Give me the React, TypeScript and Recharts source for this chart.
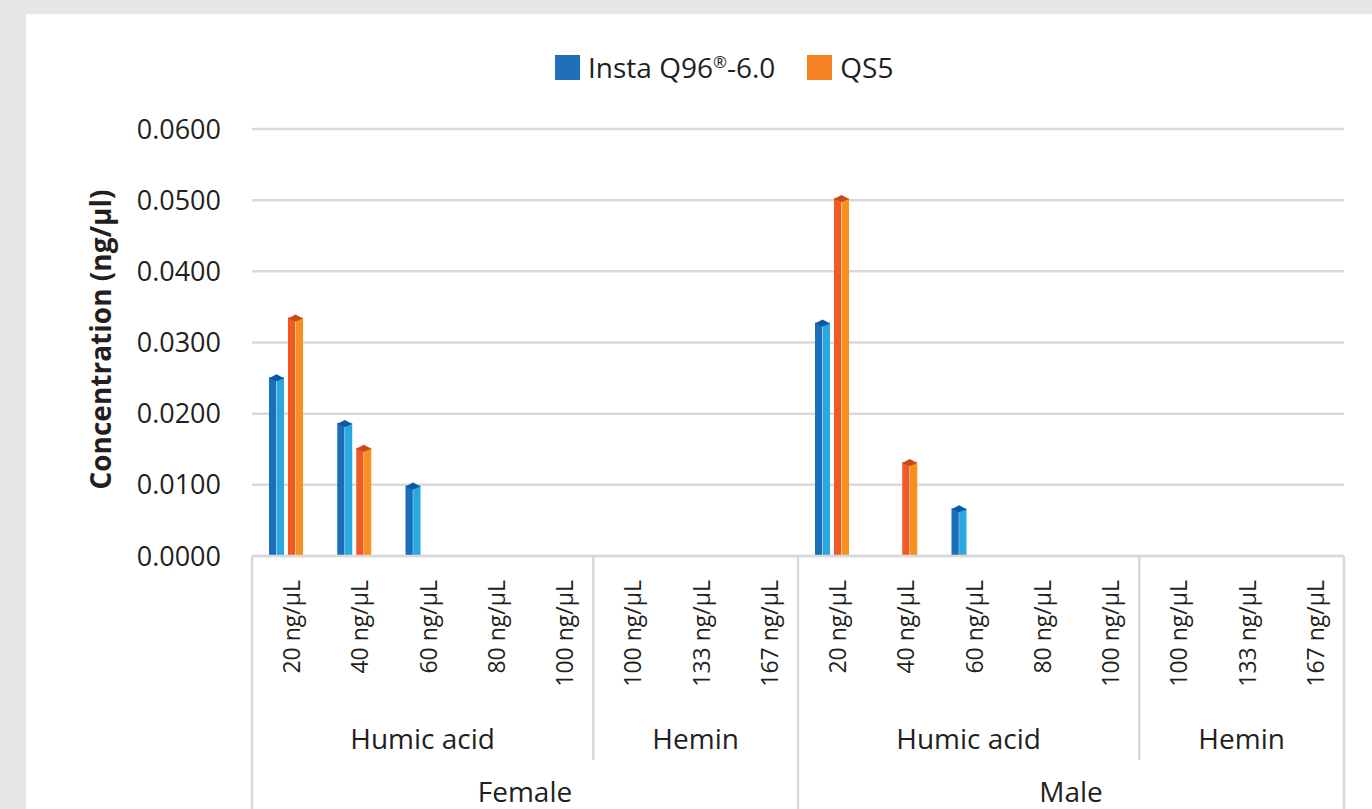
import { BarChart, Bar, XAxis, YAxis, CartesianGrid, Legend } from "recharts"

// data
const doses = [
  "20 ng/µL", "40 ng/µL", "60 ng/µL", "80 ng/µL", "100 ng/µL",
  "100 ng/µL", "133 ng/µL", "167 ng/µL",
  "20 ng/µL", "40 ng/µL", "60 ng/µL", "80 ng/µL", "100 ng/µL",
  "100 ng/µL", "133 ng/µL", "167 ng/µL",
]
const inhibitors = [
  "Humic acid", "Humic acid", "Humic acid", "Humic acid", "Humic acid",
  "Hemin", "Hemin", "Hemin",
  "Humic acid", "Humic acid", "Humic acid", "Humic acid", "Humic acid",
  "Hemin", "Hemin", "Hemin",
]
const sexes = [
  "Female", "Female", "Female", "Female", "Female", "Female", "Female", "Female",
  "Male", "Male", "Male", "Male", "Male", "Male", "Male", "Male",
]
const instaQ96 = [0.0251, 0.0187, 0.0099, 0, 0, 0, 0, 0, 0.0328, 0, 0.0067, 0, 0, 0, 0, 0]
const qs5 = [0.0335, 0.0152, 0, 0, 0, 0, 0, 0, 0.0503, 0.0132, 0, 0, 0, 0, 0, 0]
const yTicks = [0, 0.01, 0.02, 0.03, 0.04, 0.05, 0.06]

const data = doses.map((d, i) => ({
  key: `${sexes[i]}|${inhibitors[i]}|${d}|${i}`,
  dose: d,
  insta: instaQ96[i],
  qs5: qs5[i],
}))

const FONT = "'Open Sans', 'Noto Sans', sans-serif"
const TXT = "#231f20"
const LINE = "#d9d9d9"
const W = 1346, H = 795
const M = { top: 115, right: 28, left: 0, bottom: 0 }
const Y_W = 226
const X_H = 253
const STEP = (W - M.right - Y_W) / doses.length

const series = [
  { key: "insta", name: "Insta Q96", sup: "®", tail: "-6.0", swatch: "#1f70b8", dark: "#1b6fba", light: "#2aa8e0", cap: "#0b58a6" },
  { key: "qs5", name: "QS5", sup: "", tail: "", swatch: "#f58220", dark: "#f15a24", light: "#f7901e", cap: "#c64c17" },
]

// fake 3D column: two faces + a diamond cap
function Column(props: any) {
  const { x, y, width, height, dark, light, cap } = props
  if (!height || height <= 0) return null
  const h = width / 2
  return (
    <g>
      <rect x={x} y={y} width={h} height={height} fill={dark} />
      <rect x={x + h} y={y} width={h} height={height} fill={light} />
      <line x1={x + h} x2={x + h} y1={y} y2={y + height} stroke="rgba(255,255,255,0.35)" strokeWidth={1} />
      <polygon points={`${x},${y + 1} ${x + h},${y - 3} ${x + width},${y + 1} ${x + h},${y + 4}`} fill={cap} />
    </g>
  )
}

function isStart(arr: string[], i: number) {
  return i === 0 || arr[i] !== arr[i - 1] || sexes[i] !== sexes[i - 1]
}
function runLength(arr: string[], i: number) {
  let n = 1
  while (i + n < arr.length && arr[i + n] === arr[i] && sexes[i + n] === sexes[i]) n++
  return n
}

function MultiTick(props: any) {
  const { x, y, payload } = props
  const i = payload.index
  const left = x - STEP / 2
  const out: any[] = []
  out.push(
    <text key="d" transform={`translate(${x + 5},${y + 24}) rotate(-90)`} textAnchor="end"
      dominantBaseline="central" fontSize={23} fill={TXT} fontFamily={FONT}>{doses[i]}</text>
  )
  if (isStart(inhibitors, i)) {
    const n = runLength(inhibitors, i)
    out.push(
      <text key="g" x={x + ((n - 1) / 2) * STEP} y={y + 193} textAnchor="middle"
        fontSize={28} fill={TXT} fontFamily={FONT}>{inhibitors[i]}</text>
    )
    if (!isStart(sexes, i)) out.push(<line key="gl" x1={left} x2={left} y1={y} y2={y + 204} stroke={LINE} strokeWidth={2.5} />)
  }
  if (isStart(sexes, i)) {
    const n = runLength(sexes, i)
    out.push(
      <text key="s" x={x + ((n - 1) / 2) * STEP} y={y + 246} textAnchor="middle"
        fontSize={28} fill={TXT} fontFamily={FONT}>{sexes[i]}</text>
    )
    out.push(<line key="sl" x1={left} x2={left} y1={y} y2={y + 260} stroke={LINE} strokeWidth={2.5} />)
  }
  if (i === doses.length - 1) {
    out.push(<line key="end" x1={x + STEP / 2} x2={x + STEP / 2} y1={y} y2={y + 260} stroke={LINE} strokeWidth={2.5} />)
  }
  return <g>{out}</g>
}

function LegendBox() {
  return (
    <div style={{ display: "flex", alignItems: "center", fontFamily: FONT, fontSize: 28, color: TXT, lineHeight: "26px" }}>
      {series.map((s, i) => (
        <div key={s.key} style={{ display: "flex", alignItems: "center", marginRight: i === 0 ? 32 : 0 }}>
          <span style={{ width: 25, height: 25, background: s.swatch, display: "inline-block", marginRight: 8 }} />
          <span>
            {s.name}
            {s.sup && <sup style={{ fontSize: "0.6em", lineHeight: 0 }}>{s.sup}</sup>}
            {s.tail}
          </span>
        </div>
      ))}
    </div>
  )
}

function YTitle(props: any) {
  const vb = props.viewBox || {}
  const cy = (vb.y ?? 0) + (vb.height ?? 0) / 2 - 3
  return (
    <text transform={`translate(74,${cy}) rotate(-90)`} textAnchor="middle" dominantBaseline="central"
      fontSize={28} fontWeight={700} fill={TXT} fontFamily={FONT}>Concentration (ng/µl)</text>
  )
}

export default function App() {
  return (
    <div style={{ position: "fixed", left: 0, top: 0, width: 1372, height: 809, background: "#e6e7e9", overflow: "hidden" }}>
      <div style={{ position: "absolute", left: 26, top: 14, width: W, height: H, background: "#fff" }}>
        <BarChart width={W} height={H} data={data} margin={M} barSize={15} barGap={4}>
          <CartesianGrid vertical={false} stroke={LINE} strokeWidth={2.5} />
          <Legend layout="vertical" verticalAlign="middle" align="center" content={<LegendBox />}
            wrapperStyle={{ top: 40, left: 529, width: "auto", height: 26 }} />
          <YAxis width={Y_W} domain={[0, 0.06]} ticks={yTicks} tickFormatter={(v: number) => v.toFixed(4)}
            axisLine={false} tickLine={false} tickSize={0} tickMargin={31}
            tick={{ fill: TXT, fontSize: 27, fontFamily: FONT }}
            label={{ content: <YTitle /> }} />
          <XAxis dataKey="key" height={X_H} interval={0} tick={<MultiTick />}
            axisLine={{ stroke: LINE, strokeWidth: 2.5 }} tickLine={false} tickSize={0} tickMargin={0} />
          {series.map(s => (
            <Bar key={s.key} dataKey={s.key} name={s.name} isAnimationActive={false}
              shape={(p: any) => <Column {...p} dark={s.dark} light={s.light} cap={s.cap} />} />
          ))}
        </BarChart>
      </div>
    </div>
  )
}
